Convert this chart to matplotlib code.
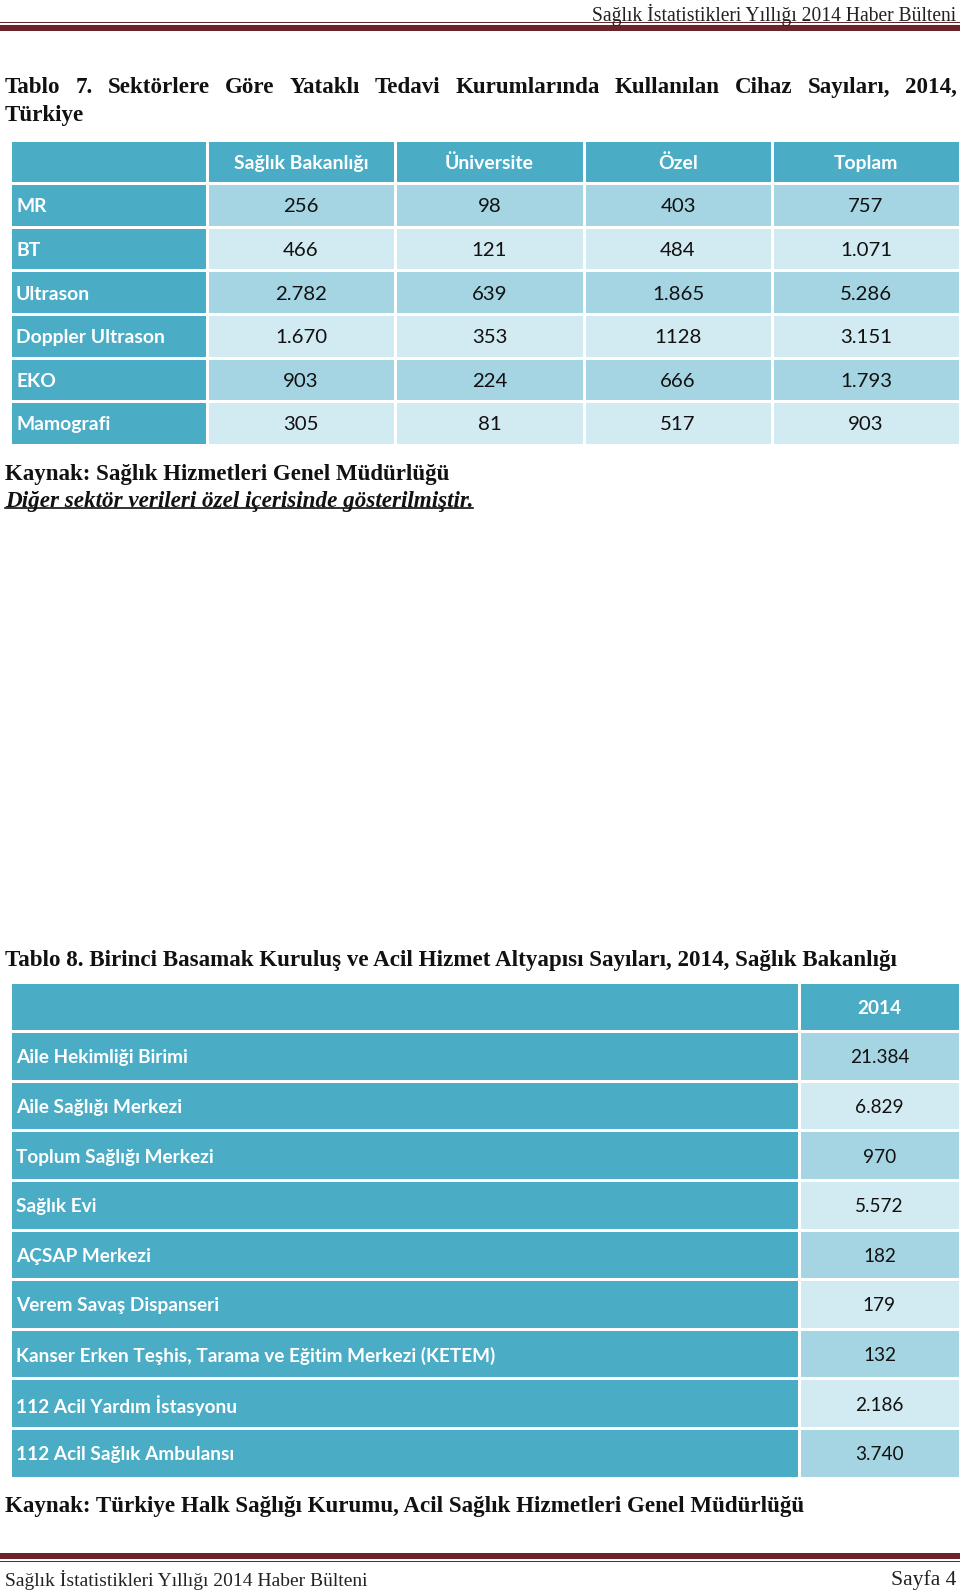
import matplotlib
matplotlib.use("Agg")
import matplotlib.pyplot as plt
from matplotlib.patches import Rectangle

# --- data ---
header_text = "Sağlık İstatistikleri Yıllığı 2014 Haber Bülteni"
title7 = ["Tablo 7. Sektörlere Göre Yataklı Tedavi Kurumlarında Kullanılan Cihaz Sayıları, 2014,",
          "Türkiye"]
t7_columns = ["Sağlık Bakanlığı", "Üniversite", "Özel", "Toplam"]
t7_rows = ["MR", "BT", "Ultrason", "Doppler Ultrason", "EKO", "Mamografi"]
saglik_bakanligi = ["256", "466", "2.782", "1.670", "903", "305"]
universite = ["98", "121", "639", "353", "224", "81"]
ozel = ["403", "484", "1.865", "1128", "666", "517"]
toplam = ["757", "1.071", "5.286", "3.151", "1.793", "903"]
kaynak7 = "Kaynak: Sağlık Hizmetleri Genel Müdürlüğü"
not7 = "Diğer sektör verileri özel içerisinde gösterilmiştir."

title8 = "Tablo 8. Birinci Basamak Kuruluş ve Acil Hizmet Altyapısı Sayıları, 2014, Sağlık Bakanlığı"
t8_column = "2014"
t8_rows = ["Aile Hekimliği Birimi", "Aile Sağlığı Merkezi", "Toplum Sağlığı Merkezi",
           "Sağlık Evi", "AÇSAP Merkezi", "Verem Savaş Dispanseri",
           "Kanser Erken Teşhis, Tarama ve Eğitim Merkezi (KETEM)",
           "112 Acil Yardım İstasyonu", "112 Acil Sağlık Ambulansı"]
t8_values = ["21.384", "6.829", "970", "5.572", "182", "179", "132", "2.186", "3.740"]
kaynak8 = "Kaynak: Türkiye Halk Sağlığı Kurumu, Acil Sağlık Hizmetleri Genel Müdürlüğü"
footer_left = "Sağlık İstatistikleri Yıllığı 2014 Haber Bülteni"
footer_right = "Sayfa 4"

# --- styles ---
DARK = "#4bacc6"
MID = "#a5d5e2"
LIGHT = "#d2eaf1"
MAROON = "#6b2428"
SANS = ["Lato", "DejaVu Sans"]
SERIF = ["Liberation Serif", "DejaVu Serif"]
VA = "center_baseline"

fig = plt.figure(figsize=(9.6, 15.92), dpi=100)
ax = fig.add_axes([0, 0, 1, 1])
ax.set_xlim(0, 960)
ax.set_ylim(1592, 0)
ax.axis("off")
renderer = fig.canvas.get_renderer()


def text_width(t):
    return t.get_window_extent(renderer).width


def fit_text(x, y, s, width, **kw):
    t = ax.text(x, y, s, fontsize=10, va=VA, **kw)
    t.set_fontsize(10 * width / text_width(t))
    return t


def justify(x0, x1, y, line, size, **kw):
    # spread the words of one line evenly between x0 and x1
    words = line.split()
    ts = [ax.text(0, y, w, fontsize=size, va=VA, **kw) for w in words]
    widths = [text_width(t) for t in ts]
    gap = (x1 - x0 - sum(widths)) / (len(words) - 1)
    x = x0
    for t, w in zip(ts, widths):
        t.set_x(x)
        x += w + gap


def cell(x0, x1, y0, y1, color, g=1.5):
    ax.add_patch(Rectangle((x0 + g, y0 + g), x1 - x0 - 2 * g, y1 - y0 - 2 * g,
                           facecolor=color, edgecolor="none"))


# header / footer rules
ax.add_patch(Rectangle((0, 22), 960, 1.3, color=MAROON, lw=0))
ax.add_patch(Rectangle((0, 25), 960, 6, color=MAROON, lw=0))
ax.add_patch(Rectangle((0, 1553), 960, 6, color=MAROON, lw=0))
ax.add_patch(Rectangle((0, 1561), 960, 1.3, color=MAROON, lw=0))
fit_text(956, 12, header_text, 364, ha="right", family=SERIF, color="#222222")
fit_text(5, 1578, footer_left, 362, ha="left", family=SERIF, color="#222222")
fit_text(956, 1578, footer_right, 66, ha="right", family=SERIF, color="#222222")

# titles
t8 = fit_text(5, 958, title8, 896, ha="left", family=SERIF,
              weight="bold", color="#111111")
tsize = t8.get_fontsize()
justify(5, 957, 85, title7[0], tsize, family=SERIF, weight="bold", color="#111111")
ax.text(5, 113, title7[1], fontsize=tsize, va=VA, family=SERIF,
        weight="bold", color="#111111")

# table 7
col_edges = [10, 207, 395, 584, 772, 960]
top7, pitch7 = 140, 43.6
probe = ax.text(0, 0, t7_columns[0], fontsize=10, family=SANS, weight="bold")
size7 = 10 * 134 / text_width(probe)
probe.remove()

for j in range(5):
    cell(col_edges[j], col_edges[j + 1], top7, top7 + pitch7, DARK)
for j, name in enumerate(t7_columns):
    xc = (col_edges[j + 1] + col_edges[j + 2]) / 2
    ax.text(xc, top7 + pitch7 / 2, name, fontsize=size7, ha="center", va=VA,
            family=SANS, weight="bold", color="white")

columns7 = [saglik_bakanligi, universite, ozel, toplam]
for i, label in enumerate(t7_rows):
    y0 = top7 + (i + 1) * pitch7
    yc = y0 + pitch7 / 2
    band = MID if i % 2 == 0 else LIGHT
    cell(col_edges[0], col_edges[1], y0, y0 + pitch7, DARK)
    ax.text(16, yc, label, fontsize=size7, ha="left", va=VA,
            family=SANS, weight="bold", color="white")
    for j, vals in enumerate(columns7):
        cell(col_edges[j + 1], col_edges[j + 2], y0, y0 + pitch7, band)
        xc = (col_edges[j + 1] + col_edges[j + 2]) / 2
        ax.text(xc, yc, vals[i], fontsize=size7 * 1.05, ha="center", va=VA,
                family=SANS, color="#111111")

fit_text(5, 472, kaynak7, 446, ha="left", family=SERIF,
         weight="bold", color="#111111")
n7 = fit_text(5, 499, not7, 468, ha="left", family=SERIF,
              weight="bold", style="italic", color="#111111")
ax.plot([5, 5 + text_width(n7)], [508, 508], color="#111111", lw=1.2)

# table 8
edges8 = [10, 799, 960]
top8, pitch8 = 982, 49.6
probe = ax.text(0, 0, t8_rows[6], fontsize=10, family=SANS, weight="bold")
size8 = 10 * 482 / text_width(probe)
probe.remove()

cell(edges8[0], edges8[1], top8, top8 + pitch8, DARK)
cell(edges8[1], edges8[2], top8, top8 + pitch8, DARK)
ax.text((edges8[1] + edges8[2]) / 2, top8 + pitch8 / 2, t8_column, fontsize=size8,
        ha="center", va=VA, family=SANS, weight="bold", color="white")
for i, (label, val) in enumerate(zip(t8_rows, t8_values)):
    y0 = top8 + (i + 1) * pitch8
    yc = y0 + pitch8 / 2
    cell(edges8[0], edges8[1], y0, y0 + pitch8, DARK)
    cell(edges8[1], edges8[2], y0, y0 + pitch8, MID if i % 2 == 0 else LIGHT)
    ax.text(16, yc, label, fontsize=size8, ha="left", va=VA,
            family=SANS, weight="bold", color="white")
    ax.text((edges8[1] + edges8[2]) / 2, yc, val, fontsize=size8, ha="center",
            va=VA, family=SANS, color="#111111")

fit_text(5, 1504, kaynak8, 802, ha="left", family=SERIF,
         weight="bold", color="#111111")

fig.savefig("out.png", dpi=100)
